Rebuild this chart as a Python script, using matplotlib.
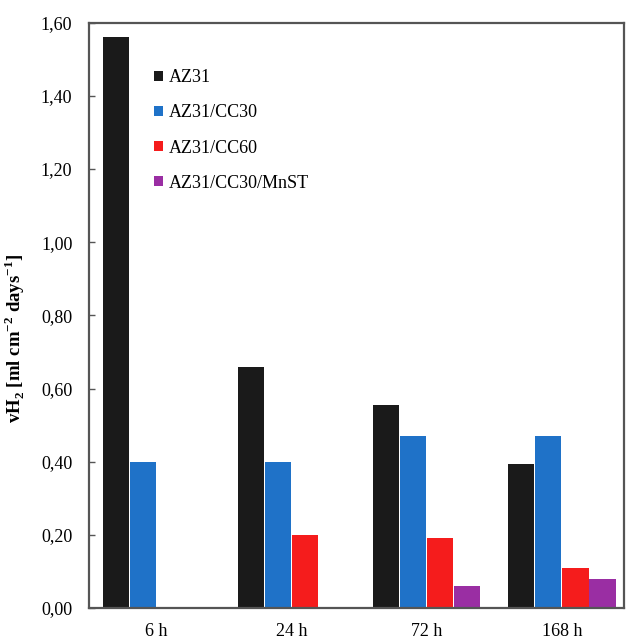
import matplotlib
matplotlib.use("Agg")
import matplotlib.pyplot as plt
import numpy as np

plt.rcParams['font.family'] = ['Liberation Serif', 'DejaVu Serif']
plt.rcParams['mathtext.fontset'] = 'custom'
plt.rcParams['mathtext.rm'] = 'Liberation Serif'
plt.rcParams['mathtext.bf'] = 'Liberation Serif:bold'

times = ["6 h", "24 h", "72 h", "168 h"]
series = ["AZ31", "AZ31/CC30", "AZ31/CC60", "AZ31/CC30/MnST"]
az31 = [1.56, 0.66, 0.555, 0.395]
cc30 = [0.40, 0.40, 0.47, 0.47]
cc60 = [0.0, 0.20, 0.19, 0.11]
mnst = [0.0, 0.0, 0.06, 0.08]
colors = ["#1a1a1a", "#1f72c8", "#f51c1c", "#9a2ea3"]

fig = plt.figure(figsize=(6.28, 6.41), dpi=100)
ax = fig.add_axes([0.1417, 0.0515, 0.852, 0.913])

x = np.arange(len(times))
w = 0.2
for i, (vals, lab, c) in enumerate(zip([az31, cc30, cc60, mnst], series, colors)):
    ax.bar(x + (i - 1.5) * w, vals, w * 0.97, color=c, label=lab)

ax.set_xlim(-0.5, 3.46)
ax.set_ylim(0, 1.6)
yt = np.arange(0, 1.61, 0.2)
ax.set_yticks(yt)
ax.set_yticklabels([("%.2f" % v).replace(".", ",") for v in yt], fontsize=13)
ax.set_xticks(x)
ax.set_xticklabels(times, fontsize=13)
ax.tick_params(axis='x', length=0, pad=11)
ax.tick_params(axis='y', direction='in', length=4, width=1, color='#555555', pad=12)
for s in ax.spines.values():
    s.set_linewidth(1.6)
    s.set_color('#555555')

ax.set_ylabel("vH$_\\mathbf{2}$ [ml cm$^{\\mathbf{-2}}$ days$^{\\mathbf{-1}}$]", fontsize=13.5, fontweight='bold')
ax.yaxis.set_label_coords(-0.116, 0.46)

ax.legend(loc='upper left', bbox_to_anchor=(0.092, 0.948), frameon=False, fontsize=13,
          handlelength=0.5, handleheight=0.5, handletextpad=0.3, labelspacing=1.0)

fig.savefig("out.png", dpi=100)
